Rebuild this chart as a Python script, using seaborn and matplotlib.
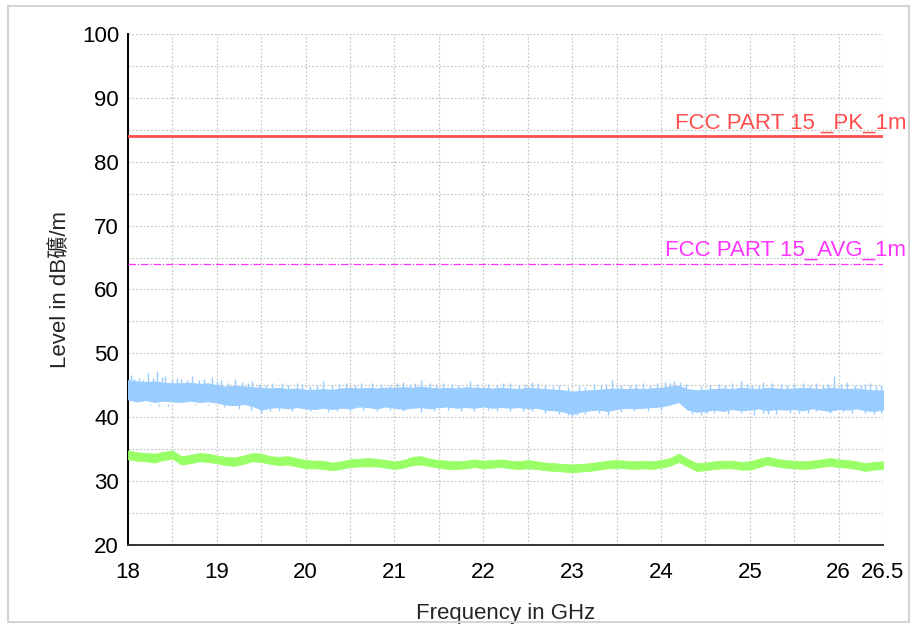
import numpy as np
import pandas as pd
import matplotlib
matplotlib.use("Agg")
import matplotlib.pyplot as plt
import seaborn as sns
from matplotlib.patches import Rectangle
from matplotlib.ticker import MultipleLocator, FixedLocator

# frequency grid of the read-off envelopes (GHz)
freq = [18.0, 18.1, 18.2, 18.3, 18.4, 18.5, 18.6, 18.7, 18.8, 18.9,
        19.0, 19.1, 19.2, 19.3, 19.4, 19.5, 19.6, 19.7, 19.8, 19.9,
        20.0, 20.1, 20.2, 20.3, 20.4, 20.5, 20.6, 20.7, 20.8, 20.9,
        21.0, 21.1, 21.2, 21.3, 21.4, 21.5, 21.6, 21.7, 21.8, 21.9,
        22.0, 22.1, 22.2, 22.3, 22.4, 22.5, 22.6, 22.7, 22.8, 22.9,
        23.0, 23.1, 23.2, 23.3, 23.4, 23.5, 23.6, 23.7, 23.8, 23.9,
        24.0, 24.1, 24.2, 24.3, 24.4, 24.5, 24.6, 24.7, 24.8, 24.9,
        25.0, 25.1, 25.2, 25.3, 25.4, 25.5, 25.6, 25.7, 25.8, 25.9,
        26.0, 26.1, 26.2, 26.3, 26.4, 26.5]

# peak trace (blue) body envelope, dBuV/m
pk_top = [45.8, 45.6, 45.5, 45.6, 45.4, 45.3, 45.3, 45.4, 45.2, 45.3,
          45.0, 44.8, 44.9, 44.8, 44.7, 44.6, 44.5, 44.6, 44.4, 44.5,
          44.3, 44.3, 44.4, 44.3, 44.5, 44.6, 44.5, 44.6, 44.5, 44.6,
          44.6, 44.7, 44.6, 44.8, 44.6, 44.5, 44.6, 44.5, 44.7, 44.6,
          44.6, 44.5, 44.6, 44.5, 44.4, 44.6, 44.5, 44.4, 44.3, 44.2,
          44.0, 44.1, 44.2, 44.3, 44.4, 44.5, 44.4, 44.5, 44.4, 44.5,
          44.6, 44.8, 44.9, 44.4, 44.2, 44.3, 44.4, 44.5, 44.4, 44.6,
          44.5, 44.4, 44.6, 44.5, 44.4, 44.5, 44.6, 44.5, 44.4, 44.6,
          44.5, 44.4, 44.5, 44.3, 44.2, 44.2]
pk_bot = [42.8, 42.5, 42.7, 42.4, 42.6, 42.5, 42.4, 42.6, 42.4, 42.5,
          42.3, 42.0, 41.9, 42.1, 41.8, 41.2, 41.5, 41.6, 41.4, 41.6,
          41.4, 41.3, 41.5, 41.3, 41.5, 41.4, 41.7, 41.6, 41.4, 41.7,
          41.5, 41.3, 41.5, 41.6, 41.4, 41.6, 41.7, 41.5, 41.6, 41.5,
          41.7, 41.5, 41.6, 41.5, 41.6, 41.4, 41.5, 41.2, 41.1, 40.9,
          40.5, 40.9, 41.1, 41.2, 41.0, 41.3, 41.5, 41.4, 41.5, 41.6,
          41.7, 42.0, 42.4, 41.2, 40.9, 41.0, 41.2, 41.0, 41.3, 41.1,
          41.2, 41.4, 41.1, 41.3, 41.2, 41.3, 41.1, 41.4, 41.2, 41.0,
          41.3, 41.2, 41.4, 41.1, 41.0, 41.2]

# isolated peaks above the blue body
spike_f = [18.03, 18.07, 18.12, 18.17, 18.23, 18.28, 18.33, 18.38, 18.42, 18.5,
           18.55, 18.6, 18.66, 18.72, 18.8, 18.86, 18.95, 19.0, 19.05, 19.12,
           19.2, 19.28, 19.35, 19.4, 19.47, 19.55, 19.62, 19.73, 19.8, 19.9,
           19.96, 20.05, 20.13, 20.2, 20.3, 20.38, 20.45, 20.55, 20.62, 20.75,
           20.85, 20.95, 21.03, 21.1, 21.18, 21.23, 21.3, 21.4, 21.47, 21.55,
           21.65, 21.72, 21.85, 21.93, 22.05, 22.15, 22.22, 22.3, 22.4, 22.47,
           22.55, 22.62, 22.7, 22.78, 22.85, 22.95, 23.08, 23.15, 23.25, 23.32,
           23.38, 23.45, 23.55, 23.65, 23.72, 23.8, 23.88, 23.95, 24.05, 24.1,
           24.15, 24.22, 24.28, 24.45, 24.55, 24.65, 24.72, 24.8, 24.9, 24.97,
           25.03, 25.1, 25.15, 25.25, 25.35, 25.42, 25.5, 25.6, 25.68, 25.75,
           25.82, 25.88, 25.95, 26.03, 26.1, 26.18, 26.25, 26.3, 26.35, 26.42,
           26.48]
spike_v = [46.6, 46.0, 46.2, 45.9, 47.0, 46.1, 47.2, 46.3, 46.5, 45.8,
           46.1, 46.0, 45.9, 46.4, 45.8, 46.0, 46.3, 45.6, 45.8, 45.4,
           46.0, 45.5, 45.3, 45.6, 45.2, 45.1, 45.3, 45.3, 45.0, 45.4,
           45.2, 44.9, 45.1, 45.7, 45.0, 45.2, 45.3, 45.1, 45.3, 45.4,
           45.2, 45.1, 45.3, 45.5, 45.2, 45.4, 45.9, 45.3, 45.1, 45.3,
           45.2, 45.0, 45.6, 45.2, 45.2, 45.1, 45.3, 45.4, 45.0, 45.2,
           45.5, 45.3, 45.0, 44.9, 45.1, 44.8, 44.9, 44.8, 45.2, 45.0,
           45.2, 45.9, 45.1, 45.0, 45.2, 45.3, 45.1, 45.3, 45.5, 45.3,
           45.6, 45.5, 45.2, 44.9, 45.1, 45.2, 45.0, 45.4, 45.7, 45.2,
           45.0, 45.1, 45.5, 45.3, 45.2, 45.0, 45.2, 45.4, 45.1, 45.3,
           45.0, 45.2, 46.4, 45.2, 45.5, 45.1, 45.0, 45.2, 45.3, 44.9,
           45.1]
# dips below the blue body
dip_f = [18.08, 18.25, 18.35, 18.45, 18.58, 18.75, 18.9, 19.08, 19.25, 19.38,
         19.5, 19.6, 19.7, 19.85, 20.05, 20.25, 20.35, 20.5, 20.65, 20.8,
         20.95, 21.1, 21.3, 21.45, 21.6, 21.75, 21.9, 22.05, 22.15, 22.3,
         22.45, 22.55, 22.7, 22.85, 22.95, 23.0, 23.05, 23.15, 23.3, 23.4,
         23.55, 23.7, 23.85, 24.0, 24.35, 24.45, 24.52, 24.6, 24.75, 24.9,
         25.05, 25.15, 25.2, 25.3, 25.45, 25.55, 25.65, 25.75, 25.9, 26.05,
         26.15, 26.3, 26.4, 26.48]
dip_v = [42.0, 41.9, 41.8, 41.8, 42.0, 41.9, 41.9, 41.6, 41.3, 41.2,
         40.6, 40.9, 41.0, 40.9, 40.9, 40.8, 41.0, 40.9, 41.1, 40.9,
         41.2, 40.9, 40.8, 41.0, 41.2, 40.9, 41.0, 41.2, 41.0, 41.0,
         41.0, 40.9, 40.6, 40.5, 40.3, 40.0, 40.3, 40.5, 40.7, 40.4,
         40.8, 40.9, 41.0, 41.2, 40.5, 40.4, 40.6, 40.6, 40.5, 40.6,
         40.3, 40.7, 40.5, 40.5, 40.6, 40.7, 40.6, 40.9, 40.6, 40.8,
         40.7, 40.6, 40.5, 40.7]

# average trace (green) envelope
av_top = [34.8, 34.5, 34.4, 34.3, 34.6, 34.8, 33.9, 34.1, 34.4, 34.3,
          34.0, 33.8, 33.7, 34.0, 34.4, 34.3, 33.9, 33.8, 33.9, 33.6,
          33.3, 33.2, 33.2, 32.9, 33.1, 33.4, 33.5, 33.6, 33.5, 33.3,
          33.1, 33.3, 33.8, 33.9, 33.5, 33.3, 33.2, 33.1, 33.2, 33.4,
          33.2, 33.3, 33.4, 33.2, 33.1, 33.3, 33.1, 32.9, 32.8, 32.7,
          32.6, 32.7, 32.8, 33.0, 33.2, 33.3, 33.2, 33.1, 33.2, 33.1,
          33.3, 33.6, 34.3, 33.5, 32.8, 32.9, 33.1, 33.2, 33.2, 33.0,
          33.1, 33.5, 33.8, 33.5, 33.3, 33.2, 33.1, 33.2, 33.4, 33.6,
          33.4, 33.3, 33.1, 32.8, 33.0, 33.1]
av_bot = [33.4, 33.2, 33.1, 32.9, 33.3, 33.5, 32.6, 32.8, 33.1, 33.0,
          32.8, 32.5, 32.4, 32.7, 33.1, 33.0, 32.7, 32.5, 32.6, 32.3,
          32.0, 32.0, 31.9, 31.7, 31.9, 32.2, 32.3, 32.3, 32.3, 32.1,
          31.9, 32.1, 32.5, 32.6, 32.3, 32.1, 31.9, 31.9, 32.0, 32.2,
          32.0, 32.1, 32.2, 32.0, 31.9, 32.0, 31.9, 31.7, 31.6, 31.5,
          31.4, 31.5, 31.6, 31.8, 32.0, 32.1, 32.0, 31.9, 32.0, 31.9,
          32.1, 32.4, 33.0, 32.3, 31.6, 31.7, 31.9, 32.0, 32.0, 31.8,
          31.8, 32.2, 32.6, 32.3, 32.1, 32.0, 31.9, 32.0, 32.2, 32.4,
          32.2, 32.1, 31.9, 31.6, 31.8, 31.9]

# limit lines
limit_f = [18.0, 26.5]
pk_limit = [84, 84]
avg_limit = [64, 64]
pk_name = "FCC PART 15 _PK_1m"
avg_name = "FCC PART 15_AVG_1m"

x_major = [18, 19, 20, 21, 22, 23, 24, 25, 26, 26.5]
x_labels = ["18", "19", "20", "21", "22", "23", "24", "25", "26", "26.5"]

sns.set_style("white")
plt.rcParams["font.family"] = ["Liberation Sans", "DejaVu Sans"]

fig = plt.figure(figsize=(9.12, 6.26), dpi=100)
ax = fig.add_axes([0.1404, 0.1294, 0.8278, 0.8163])

blue = "#99ccff"
green = "#99ff66"

ax.fill_between(freq, pk_bot, pk_top, color=blue, lw=0.8, edgecolor=blue, zorder=3)
ax.vlines(spike_f, 44.0, spike_v, color=blue, lw=1.0, zorder=3)
ax.vlines(dip_f, dip_v, 42.0, color=blue, lw=1.0, zorder=3)
ax.fill_between(freq, av_bot, av_top, color=green, lw=0.6, edgecolor=green, zorder=3)

lim = pd.DataFrame({"f": limit_f * 2,
                    "level": pk_limit + avg_limit,
                    "limit": [pk_name] * 2 + [avg_name] * 2})
sns.lineplot(data=lim[lim["limit"] == pk_name], x="f", y="level", color="#ff4d4d",
             lw=2.0, ax=ax, zorder=4)
sns.lineplot(data=lim[lim["limit"] == avg_name], x="f", y="level", color="#ff33ff",
             lw=0.9, ls=(0, (6, 1.5, 1, 1.5)), ax=ax, zorder=4)

ax.text(26.76, pk_limit[0] + 0.45, pk_name, color="#ff4d4d", fontsize=16,
        ha="right", va="bottom", clip_on=False)
ax.text(26.76, avg_limit[0] + 0.45, avg_name, color="#ff33ff", fontsize=16,
        ha="right", va="bottom", clip_on=False)

ax.set_xlim(18, 26.5)
ax.set_ylim(20, 100)
ax.xaxis.set_major_locator(FixedLocator(x_major))
ax.set_xticklabels(x_labels)
ax.xaxis.set_minor_locator(MultipleLocator(0.5))
ax.yaxis.set_major_locator(MultipleLocator(10))
ax.yaxis.set_minor_locator(MultipleLocator(5))
ax.tick_params(which="both", direction="inout", length=7, width=1.1, colors="#222222",
               labelsize=16, labelcolor="black")
ax.tick_params(axis="x", which="major", pad=9)
ax.tick_params(axis="y", which="major", pad=3)

ax.grid(True, which="both", color="#c8c8c8", ls=(0, (1.5, 1.5)), lw=0.9)
ax.set_axisbelow(True)
for s in ["top", "right"]:
    ax.spines[s].set_visible(False)
ax.spines["left"].set_color("black")
ax.spines["left"].set_linewidth(1.4)
ax.spines["bottom"].set_color("#333333")
ax.spines["bottom"].set_linewidth(1.4)

ax.set_xlabel("Frequency in GHz", fontsize=16, labelpad=14)
ax.set_ylabel("Level in dB礦/m", fontsize=16, labelpad=8,
              family=["Liberation Sans", "Noto Sans CJK TC"])

# light outer frame
fig.patches.append(Rectangle((0.009, 0.006), 0.988, 0.984, transform=fig.transFigure,
                             fill=False, edgecolor="#d4d4d4", lw=1.5))

fig.savefig("out.png", dpi=100)
